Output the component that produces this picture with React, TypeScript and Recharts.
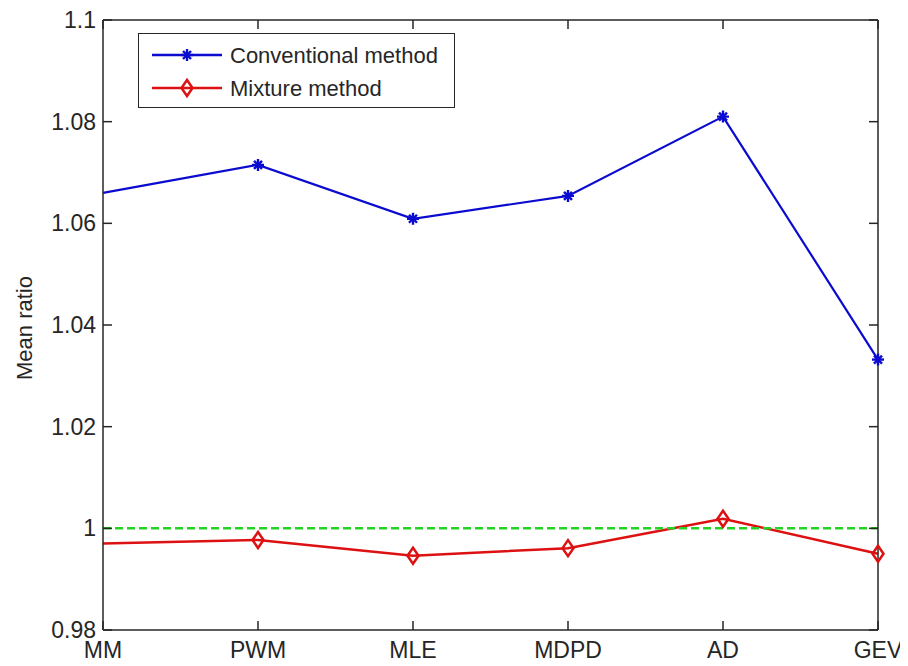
import React from 'react';
import { LineChart, Line, XAxis, YAxis, Legend } from 'recharts';

const methods = ['MM', 'PWM', 'MLE', 'MDPD', 'AD', 'GEV'];
const conventional = [1.066, 1.0715, 1.0609, 1.0654, 1.081, 1.0332];
const mixture = [0.997, 0.9977, 0.9946, 0.9961, 1.0019, 0.995];
const referenceLevel = [1, 1, 1, 1, 1, 1];
const yTicks = [0.98, 1, 1.02, 1.04, 1.06, 1.08, 1.1];
const seriesNames = { conventional: 'Conventional method', mixture: 'Mixture method' };

const data = methods.map((m, i) => ({
  method: m,
  conventional: conventional[i],
  mixture: mixture[i],
  ref: referenceLevel[i],
}));

const BLUE = '#0b0bd0';
const RED = '#dd1111';
const GREEN = '#22d322';
const AXIS = '#262626';
const FONT = '"Liberation Sans", Arial, sans-serif';

const StarDot = (props: any) => {
  const { cx, cy, index } = props;
  if (cx == null || cy == null || index === 0) return null;
  const r = 6;
  const d = 4;
  return (
    <g stroke={BLUE} strokeWidth={2.4}>
      <line x1={cx - r} x2={cx + r} y1={cy} y2={cy} />
      <line x1={cx} x2={cx} y1={cy - r} y2={cy + r} />
      <line x1={cx - d} x2={cx + d} y1={cy - d} y2={cy + d} />
      <line x1={cx - d} x2={cx + d} y1={cy + d} y2={cy - d} />
    </g>
  );
};

const DiamondDot = (props: any) => {
  const { cx, cy, index } = props;
  if (cx == null || cy == null || index === 0) return null;
  const w = 5.5;
  const h = 8;
  return (
    <polygon
      points={`${cx},${cy - h} ${cx + w},${cy} ${cx},${cy + h} ${cx - w},${cy}`}
      fill="none"
      stroke={RED}
      strokeWidth={2.5}
    />
  );
};

const fmt = (v: number) => String(Number(v.toFixed(2)));

const BottomTick = (props: any) => {
  const { x, y, payload } = props;
  return (
    <g>
      <line x1={x} x2={x} y1={y} y2={y - 9} stroke={AXIS} strokeWidth={1.5} />
      <text x={x} y={y + 28} textAnchor="middle" fontSize={23} fill={AXIS} fontFamily={FONT}>
        {payload.value}
      </text>
    </g>
  );
};

const TopTick = (props: any) => {
  const { x, y } = props;
  return <line x1={x} x2={x} y1={y} y2={y + 9} stroke={AXIS} strokeWidth={1.5} />;
};

const LeftTick = (props: any) => {
  const { x, y, payload } = props;
  return (
    <g>
      <line x1={x} x2={x + 9} y1={y} y2={y} stroke={AXIS} strokeWidth={1.5} />
      <text x={x - 7} y={y + 8} textAnchor="end" fontSize={23} fill={AXIS} fontFamily={FONT}>
        {fmt(payload.value)}
      </text>
    </g>
  );
};

const RightTick = (props: any) => {
  const { x, y } = props;
  return <line x1={x} x2={x - 9} y1={y} y2={y} stroke={AXIS} strokeWidth={1.5} />;
};

const LegendContent = (props: any) => {
  const items = (props.payload || []).filter((p: any) => p.type !== 'none');
  return (
    <div
      style={{
        width: 317,
        height: 75,
        boxSizing: 'border-box',
        border: `1.5px solid ${AXIS}`,
        background: '#fff',
      }}
    >
      <svg width={314} height={72} style={{ display: 'block' }}>
        {items.map((it: any, i: number) => {
          const cy = 21 + i * 33;
          const isConv = it.dataKey === 'conventional';
          return (
            <g key={i}>
              <line x1={13} x2={83} y1={cy} y2={cy} stroke={it.color} strokeWidth={2.5} />
              {isConv ? <StarDot cx={48} cy={cy} /> : <DiamondDot cx={48} cy={cy} />}
              <text x={91} y={cy + 8} fontSize={22} fill={AXIS} fontFamily={FONT}>
                {it.value}
              </text>
            </g>
          );
        })}
      </svg>
    </div>
  );
};

export default function App() {
  return (
    <div style={{ margin: -8, width: 908, height: 666, fontFamily: FONT }}>
      <LineChart
        width={908}
        height={666}
        data={data}
        margin={{ top: 10, right: 10, bottom: 2, left: 5 }}
      >
        <XAxis
          dataKey="method"
          type="category"
          height={34}
          axisLine={{ stroke: AXIS, strokeWidth: 1.5 }}
          tickLine={false}
          tickSize={0}
          tickMargin={0}
          tick={<BottomTick />}
          interval={0}
        />
        <XAxis
          xAxisId="top"
          dataKey="method"
          type="category"
          orientation="top"
          height={10}
          axisLine={{ stroke: AXIS, strokeWidth: 1.5 }}
          tickLine={false}
          tickSize={0}
          tickMargin={0}
          tick={<TopTick />}
          interval={0}
        />
        <YAxis
          type="number"
          domain={[0.98, 1.1]}
          ticks={yTicks}
          allowDataOverflow
          width={98}
          axisLine={{ stroke: AXIS, strokeWidth: 1.5 }}
          tickLine={false}
          tickSize={0}
          tickMargin={0}
          tick={<LeftTick />}
          interval={0}
          label={{
            content: (p: any) => {
              const vb = p.viewBox || {};
              const cx = 24;
              const cy = (vb.y ?? 0) + (vb.height ?? 0) / 2 + 3;
              return (
                <text
                  x={cx}
                  y={cy}
                  transform={`rotate(-90, ${cx}, ${cy})`}
                  textAnchor="middle"
                  dominantBaseline="central"
                  fontSize={22}
                  fill={AXIS}
                  fontFamily={FONT}
                >
                  Mean ratio
                </text>
              );
            },
          }}
        />
        <YAxis
          yAxisId="right"
          orientation="right"
          type="number"
          domain={[0.98, 1.1]}
          ticks={yTicks}
          allowDataOverflow
          width={20}
          axisLine={{ stroke: AXIS, strokeWidth: 1.5 }}
          tickLine={false}
          tickSize={0}
          tickMargin={0}
          tick={<RightTick />}
          interval={0}
        />
        <Legend
          layout="horizontal"
          verticalAlign="middle"
          align="center"
          wrapperStyle={{ position: 'absolute', left: 138, top: 33, width: 317, height: 75 }}
          content={<LegendContent />}
        />
        <Line
          dataKey="conventional"
          name={seriesNames.conventional}
          stroke={BLUE}
          strokeWidth={2.2}
          dot={<StarDot />}
          activeDot={false}
          isAnimationActive={false}
        />
        <Line
          dataKey="mixture"
          name={seriesNames.mixture}
          stroke={RED}
          strokeWidth={2.5}
          dot={<DiamondDot />}
          activeDot={false}
          isAnimationActive={false}
        />
        <Line
          dataKey="ref"
          xAxisId="top"
          yAxisId="right"
          legendType="none"
          stroke={GREEN}
          strokeWidth={2.5}
          strokeDasharray="8 4"
          dot={false}
          activeDot={false}
          isAnimationActive={false}
        />
      </LineChart>
    </div>
  );
}
